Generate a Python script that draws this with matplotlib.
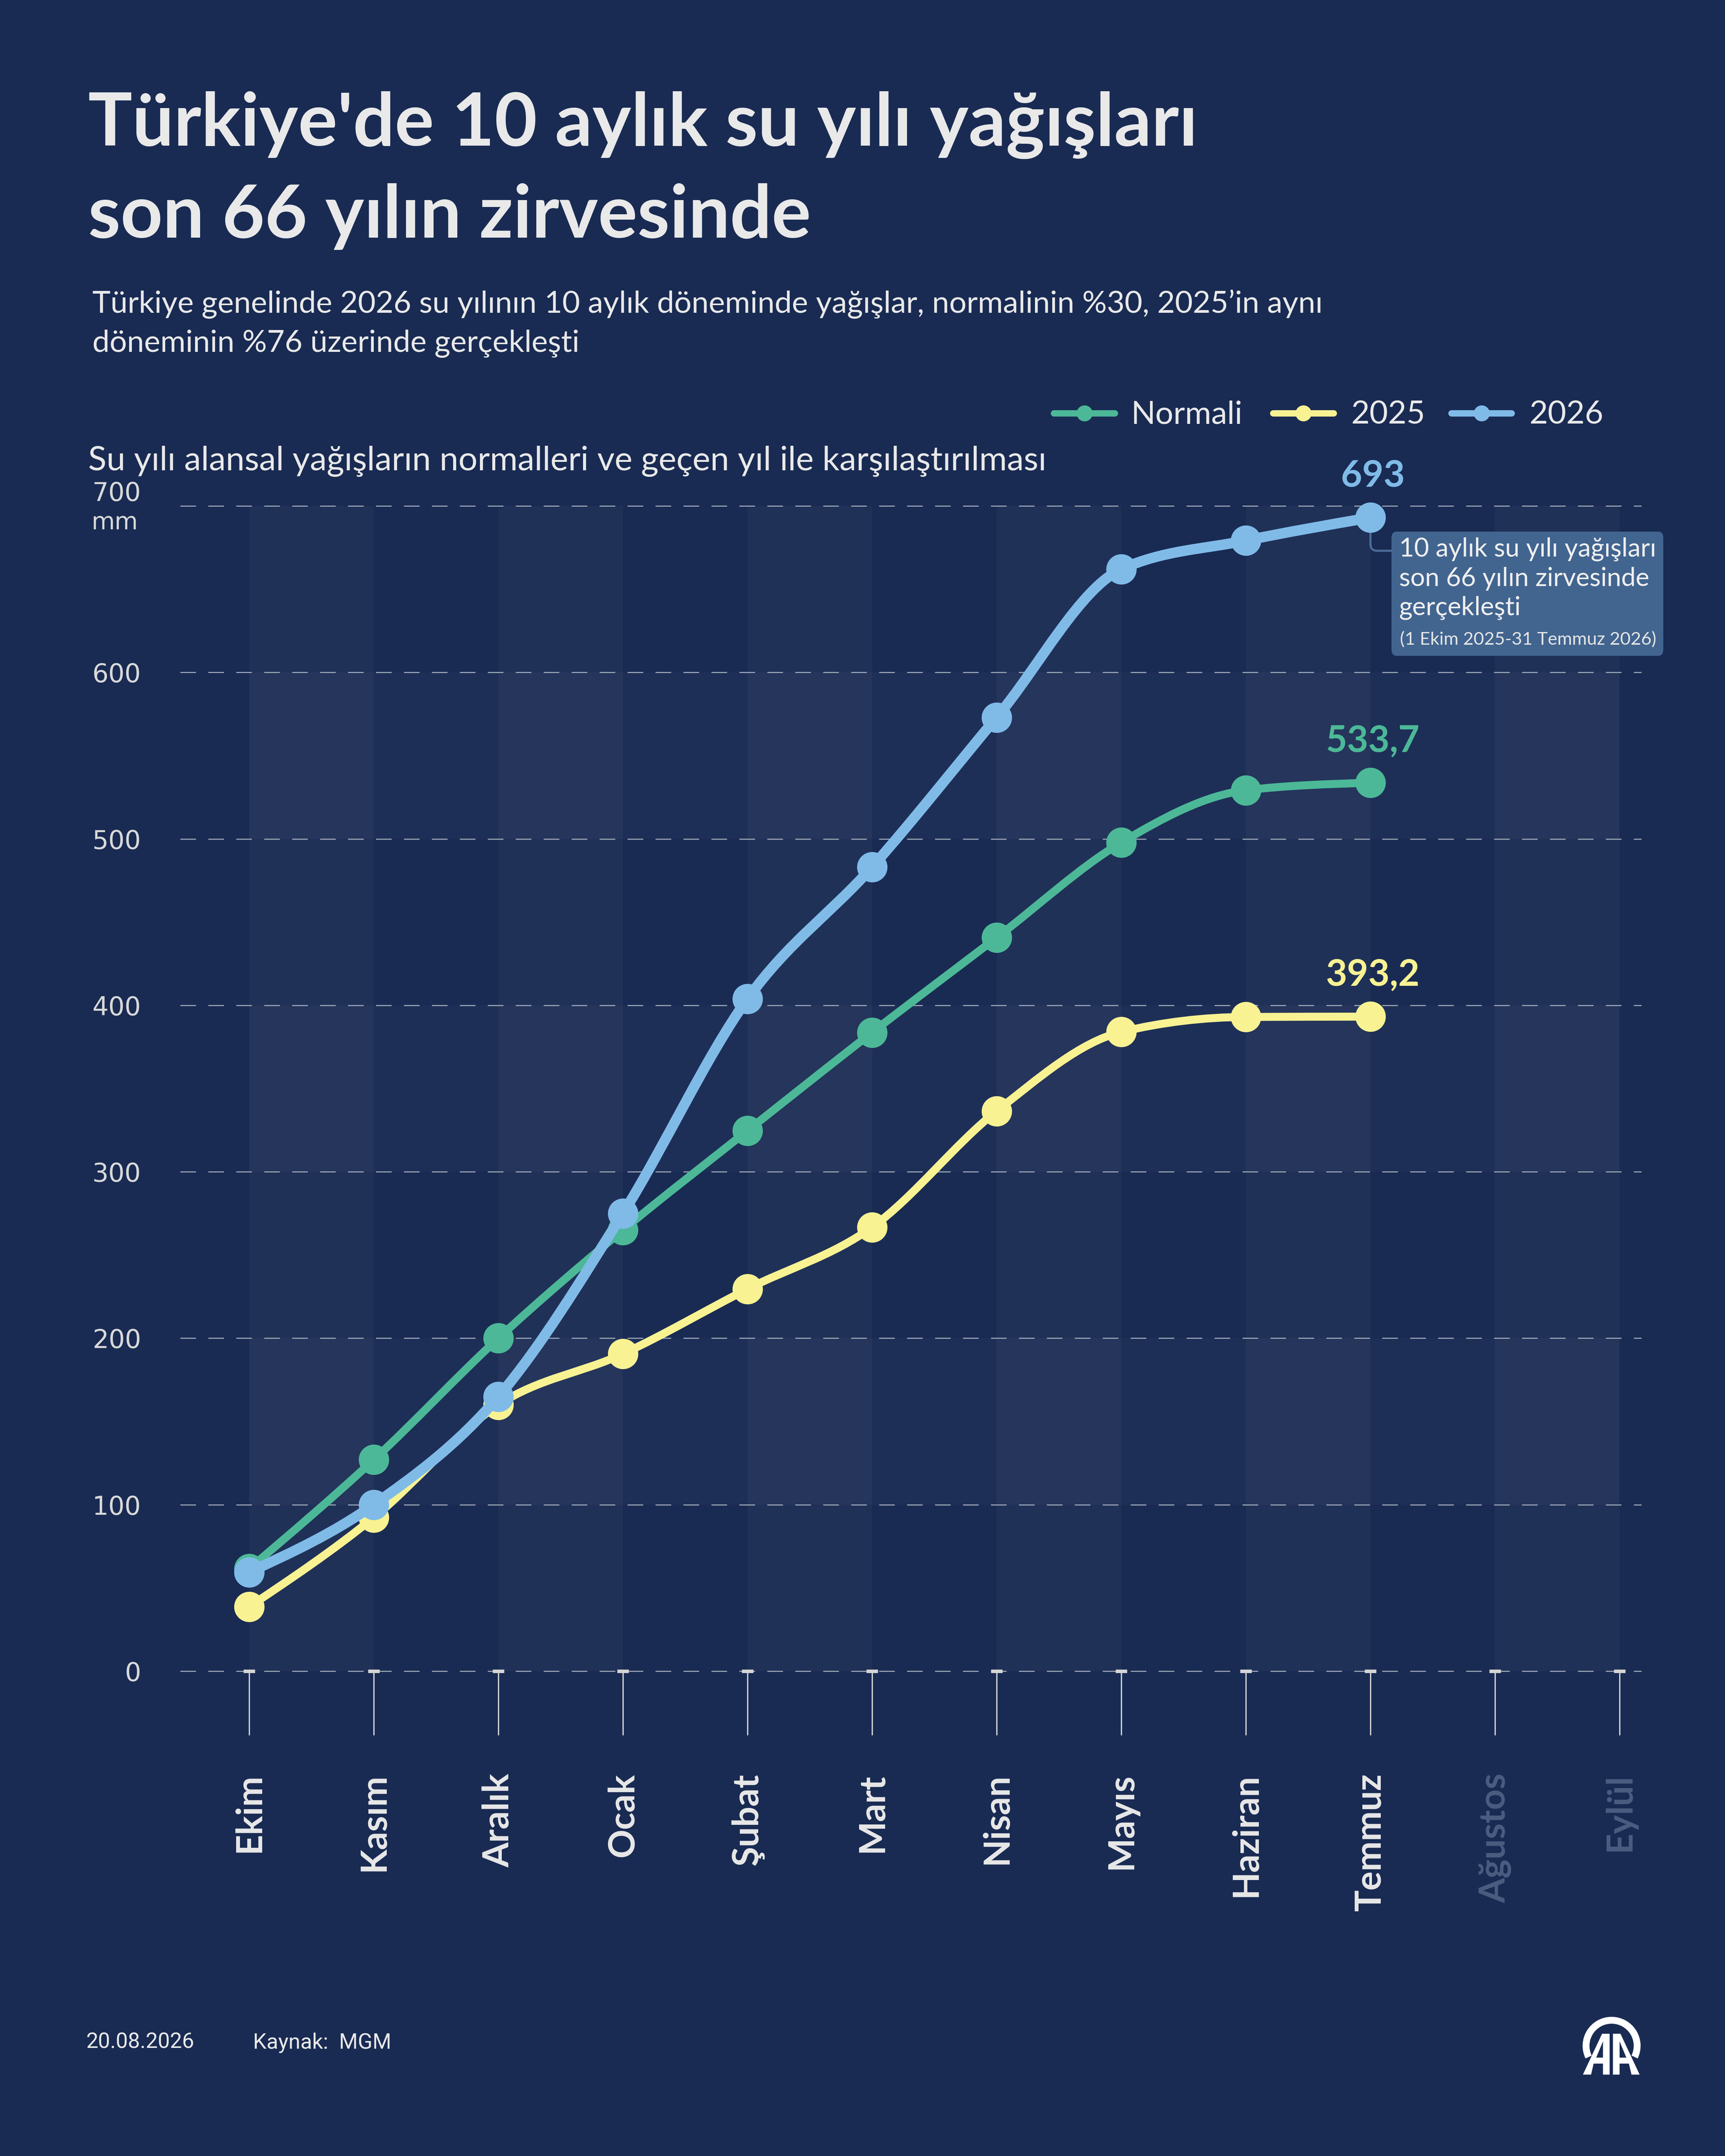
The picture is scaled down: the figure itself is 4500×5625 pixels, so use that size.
import numpy as np
import matplotlib
matplotlib.use("Agg")
import matplotlib.pyplot as plt
from matplotlib.path import Path
from matplotlib.patches import PathPatch, FancyBboxPatch, Arc
from matplotlib.lines import Line2D

# ---------------- data ----------------
months = ["Ekim", "Kasım", "Aralık", "Ocak", "Şubat", "Mart", "Nisan",
          "Mayıs", "Haziran", "Temmuz", "Ağustos", "Eylül"]
normal = [61.5, 127.0, 200.0, 265.0, 324.7, 383.7, 440.7, 497.8, 529.2, 533.7]
y2025 = [38.7, 92.3, 160.0, 190.6, 229.6, 266.7, 336.5, 384.0, 393.0, 393.2]
y2026 = [59.5, 100.0, 164.9, 275.0, 403.9, 483.1, 573.0, 662.0, 679.2, 693.0]
series_labels = ["Normali", "2025", "2026"]
end_labels = ["533,7", "393,2", "693"]
y_ticks = [0, 100, 200, 300, 400, 500, 600, 700]
y_unit = "mm"

title_lines = ["Türkiye'de 10 aylık su yılı yağışları", "son 66 yılın zirvesinde"]
subtitle_lines = ["Türkiye genelinde 2026 su yılının 10 aylık döneminde yağışlar, normalinin %30, 2025’in aynı",
                  "döneminin %76 üzerinde gerçekleşti"]
chart_subtitle = "Su yılı alansal yağışların normalleri ve geçen yıl ile karşılaştırılması"
note_lines = ["10 aylık su yılı yağışları", "son 66 yılın zirvesinde", "gerçekleşti"]
note_period = "(1 Ekim 2025-31 Temmuz 2026)"
footer_date = "20.08.2026"
footer_source = "Kaynak:  MGM"

# ---------------- style ----------------
BG = "#192b53"
TXT = "#e9e9e9"
GREEN = "#4cb897"
YELLOW = "#f8f292"
BLUE = "#80bbe8"
NOTE_BG = "#426590"
MUTED = "#4b5c80"
TICK = "#d5d5d5"
FONT = ["Lato", "DejaVu Sans"]

W, H, DPI = 4500, 5625, 300
fig = plt.figure(figsize=(W / DPI, H / DPI), dpi=DPI, facecolor=BG)
renderer = fig.canvas.get_renderer()


def FX(px):
    return px / W


def FY(py):
    return 1 - py / H


def fit_width(t, target):
    w = t.get_window_extent(renderer).width
    t.set_fontsize(t.get_fontsize() * target / w)
    return t.get_fontsize()


# ---------------- axes ----------------
ax = fig.add_axes([FX(470), FY(4360), FX(4282) - FX(470), FY(1320) - FY(4360)])
ax.set_facecolor("none")
x = np.arange(len(months))
ax.set_xlim(-0.554, 11.175)
ax.set_ylim(0, 700)
for s in ax.spines.values():
    s.set_visible(False)

# background bands
for i in range(0, len(months) - 1, 2):
    ax.axvspan(x[i], x[i + 1], color="white", alpha=0.03, lw=0, zorder=0)
for lo in y_ticks[1:-1:2]:
    ax.fill_between([x[0], x[-1]], lo, lo + 100, color="white", alpha=0.025, lw=0, zorder=0)

# grid lines
for v in y_ticks:
    ax.axhline(v, color="#9aa3b5", lw=0.7, ls=(0, (14, 11)), zorder=1, clip_on=False)

# y labels
ax.set_yticks(y_ticks)
ax.set_yticklabels([str(v) if v != y_ticks[-1] else "" for v in y_ticks])
ax.tick_params(axis="y", length=0, pad=24.5, labelsize=16, labelcolor="#d9d9d9")
ax.annotate(str(y_ticks[-1]), xy=(0, y_ticks[-1]), xycoords=("axes fraction", "data"),
            xytext=(-24.5, 7.7), textcoords="offset points", ha="right", va="center",
            fontsize=16, color="#d9d9d9")
fig.text(FX(238), FY(1364), y_unit, ha="left", va="center", fontsize=15, color="#d9d9d9")

# x labels and ticks
ax.set_xticks(x)
ax.set_xticklabels(months, rotation=90, fontsize=22.5, fontweight="bold", family=FONT)
ax.tick_params(axis="x", length=40, width=0.8, color=TICK, pad=24, labelcolor="#e8e8e8")
for lbl in ax.get_xticklabels()[10:]:
    lbl.set_color(MUTED)
ax.plot(x, np.full(len(x), y_ticks[0]), ls="none", marker="_", ms=7, mew=2.2, color=TICK,
        zorder=2, clip_on=False)


def monotone_path(xs, ys):
    """Monotone cubic (Steffen) curve through the data points."""
    xs = np.asarray(xs, float)
    ys = np.asarray(ys, float)
    n = len(xs)
    h = np.diff(xs)
    s = np.diff(ys) / h
    t = np.zeros(n)
    for i in range(1, n - 1):
        p = (s[i - 1] * h[i] + s[i] * h[i - 1]) / (h[i - 1] + h[i])
        t[i] = (np.sign(s[i - 1]) + np.sign(s[i])) * min(abs(s[i - 1]), abs(s[i]), 0.5 * abs(p))
    t[0] = (3 * s[0] - t[1]) / 2
    t[-1] = (3 * s[-1] - t[-2]) / 2
    verts = [(xs[0], ys[0])]
    codes = [Path.MOVETO]
    for i in range(n - 1):
        d = h[i] / 3
        verts += [(xs[i] + d, ys[i] + d * t[i]), (xs[i + 1] - d, ys[i + 1] - d * t[i + 1]),
                  (xs[i + 1], ys[i + 1])]
        codes += [Path.CURVE4] * 3
    return Path(verts, codes)


series = [(normal, GREEN, 5.0), (y2025, YELLOW, 5.0), (y2026, BLUE, 6.5)]
for k, (vals, col, lw) in enumerate(series):
    xs = x[:len(vals)]
    ax.add_patch(PathPatch(monotone_path(xs, vals), fill=False, ec=col, lw=lw,
                           capstyle="round", joinstyle="round", zorder=3 + k))
    ax.plot(xs, vals, "o", ms=19, color=col, mec="none", zorder=3 + k, clip_on=False)
    ax.annotate(end_labels[k], (xs[-1], vals[-1]), xytext=(1.5, 26), textcoords="offset points",
                ha="center", va="center", fontsize=23, fontweight="bold", color=col,
                family=FONT, zorder=10)

# ---------------- annotation box ----------------
box = FancyBboxPatch((FX(3630), FY(1711)), FX(4339) - FX(3630), FY(1387) - FY(1711),
                     boxstyle="round,pad=0,rounding_size=0.003", fc=NOTE_BG, ec="none",
                     transform=fig.transFigure, zorder=5)
fig.add_artist(box)
pt_disp = ax.transData.transform((x[len(y2026) - 1], y2026[-1]))
pt_fig = fig.transFigure.inverted().transform(pt_disp)
r = 18
conn_path = Path([(pt_fig[0], pt_fig[1]), (pt_fig[0], FY(1437 - r)),
                  (pt_fig[0], FY(1437)), (FX(pt_disp[0] + r), FY(1437)), (FX(3630), FY(1437))],
                 [Path.MOVETO, Path.LINETO, Path.CURVE3, Path.CURVE3, Path.LINETO])
fig.add_artist(PathPatch(conn_path, fill=False, ec="#4a6d99", lw=1.3, zorder=-1,
                         transform=fig.transFigure))
note_texts = []
for ln, yb in zip(note_lines, [1452, 1529, 1604]):
    note_texts.append(fig.text(FX(3650), FY(yb), ln, fontsize=15, color="#f0f0f0",
                               va="baseline", ha="left", family=FONT, zorder=6))
fs = fit_width(note_texts[0], 672)
for t in note_texts[1:]:
    t.set_fontsize(fs)
tp = fig.text(FX(3652), FY(1682), note_period, fontsize=10, color="#e6e6e6",
              va="baseline", ha="left", family=FONT, zorder=6)
fit_width(tp, 668)

# ---------------- titles ----------------
t1 = fig.text(FX(230), FY(380), title_lines[0], fontsize=40, fontweight="bold", color=TXT,
              family=FONT, va="baseline", ha="left")
fs = fit_width(t1, 2893)
fig.text(FX(230), FY(620), title_lines[1], fontsize=fs, fontweight="bold", color=TXT,
         family=FONT, va="baseline", ha="left")
s1 = fig.text(FX(241), FY(816), subtitle_lines[0], fontsize=17, color=TXT, family=FONT,
              va="baseline", ha="left")
fs = fit_width(s1, 3210)
fig.text(FX(241), FY(917), subtitle_lines[1], fontsize=fs, color=TXT, family=FONT,
         va="baseline", ha="left")
cs = fig.text(FX(230), FY(1227), chart_subtitle, fontsize=17, color=TXT, family=FONT,
              va="baseline", ha="left")
fit_width(cs, 2502)

# ---------------- legend ----------------
leg_items = [(2749, 2908, 2950), (3321, 3479, 3524), (3786, 3943, 3989)]
for (x0, x1, xt), (_, col, _), lab in zip(leg_items, series, series_labels):
    fig.add_artist(Line2D([FX(x0), FX(x1)], [FY(1078), FY(1078)], transform=fig.transFigure,
                          color=col, lw=4, solid_capstyle="round"))
    fig.add_artist(Line2D([FX((x0 + x1) / 2)], [FY(1078)], transform=fig.transFigure,
                          marker="o", ms=10, color=col, mec="none"))
    fig.text(FX(xt), FY(1106), lab, fontsize=20, color=TXT, family=FONT, va="baseline", ha="left")

# ---------------- footer ----------------
fig.text(FX(224), FY(5344), footer_date, fontsize=13.5, color=TXT,
         family=["Roboto", "DejaVu Sans"], va="baseline")
fig.text(FX(660), FY(5344), footer_source, fontsize=13.5, color=TXT,
         family=["Roboto", "DejaVu Sans"], va="baseline")


# ---------------- logo ----------------
def L(zx, zy):
    return ((4080 + zx / 3) / DPI, (H - (5220 + zy / 3)) / DPI)


left_outer = [(148, 578), (298, 258), (357, 258), (357, 578), (305, 578), (305, 492), (232, 492), (212, 578)]
left_inner = [(252, 445), (305, 445), (305, 318)]
for mirror in (False, True):
    verts, codes = [], []
    for poly in (left_outer, left_inner):
        pts = [((740 - a) if mirror else a, b) for a, b in poly]
        verts += [L(*p) for p in pts] + [L(*pts[0])]
        codes += [Path.MOVETO] + [Path.LINETO] * (len(pts) - 1) + [Path.CLOSEPOLY]
    fig.add_artist(PathPatch(Path(verts, codes), fc="white", ec="none",
                             transform=fig.dpi_scale_trans))
cx, cy = L(372.5, 352.5)
rad = 200 / 3 / DPI
fig.add_artist(Arc((cx, cy), 2 * rad, 2 * rad, theta1=-26, theta2=206, lw=4.3, color="white",
                   transform=fig.dpi_scale_trans))

fig.savefig("out.png", dpi=DPI, facecolor=BG)
